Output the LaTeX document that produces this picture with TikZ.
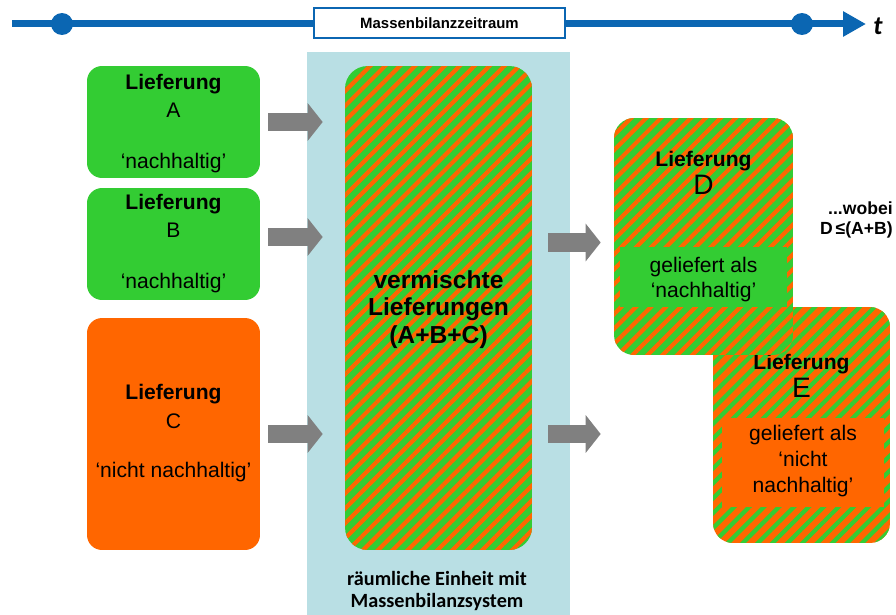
\documentclass[tikz,border=0pt]{standalone}
\usepackage{fontspec}
\setmainfont{Liberation Sans}
\newfontfamily\calibri{Carlito}
\usetikzlibrary{arrows.meta,patterns.meta}
\definecolor{lgreen}{RGB}{51,204,51}
\definecolor{lorange}{RGB}{255,102,0}
\definecolor{lblue}{RGB}{185,223,228}
\definecolor{tblue}{RGB}{11,102,178}
\definecolor{agray}{RGB}{128,128,128}
\newcommand\lief{{\bfseries Lieferung}}
\newcommand\bigletter[1]{{\fontsize{16}{16}\selectfont #1}}

\tikzset{
  box/.style={rounded corners=0.3cm, inner sep=0pt, minimum width=3.46cm},
  stripes/.style={postaction={pattern={Lines[angle=45,distance=6pt,line width=2.4pt]}, pattern color=#1}},
  band/.style={inner sep=0pt, fill=#1},
  txt/.style={align=center, font=\fontsize{12}{16}\selectfont, inner sep=0pt},
  dot/.style={circle, fill=tblue, inner sep=0pt, minimum size=0.44cm},
  blockarrow/.style={draw=agray, line width=0.37cm, -{Triangle[length=0.3cm,width=0.74cm]}},
}

\begin{document}
\begin{tikzpicture}[x=0.02cm,y=-0.02cm]
\useasboundingbox (0,0) rectangle (896,615);

\node[fill=lblue, inner sep=0pt, minimum width=5.26cm, minimum height=11.26cm] (unit) at (438.5,333.5) {};

\coordinate (t0) at (12,24);
\coordinate (t1) at (866,24);
\draw[draw=tblue, line width=0.14cm, -{Triangle[length=0.46cm,width=0.48cm]}] (t0) -- (t1);
\node[dot] (d0) at (62,24) {};
\node[dot] (d1) at (802,24) {};
\node[draw=tblue, line width=0.04cm, fill=white, minimum width=5.02cm, minimum height=0.6cm,
  font=\fontsize{8.5}{10}\selectfont\bfseries] (period) at (439.5,23) {Massenbilanzzeitraum};
\node[font=\calibri\bfseries\itshape\fontsize{15}{18}\selectfont] (t) at (878,26) {t};

\node[box, fill=lgreen, minimum height=2.24cm] (A) at (173.5,122) {};
\node[box, fill=lgreen, minimum height=2.24cm] (B) at (173.5,244) {};
\node[box, fill=lorange, minimum height=4.64cm] (C) at (173.5,434) {};
\node[box, rounded corners=0.45cm, fill=lgreen, stripes=lorange, minimum width=3.74cm, minimum height=9.68cm] (mix) at (438.5,308) {};

\node[box, rounded corners=0.4cm, fill=lorange, stripes=lgreen, minimum width=3.54cm, minimum height=4.72cm] (E) at (801.5,425) {};
\node[band=lorange, minimum width=3.24cm, minimum height=1.78cm] (Eband) at (803,462.5) {};
\node[txt] (Etitle) at (801.5,376) {\lief\\\bigletter{E}};
\node[txt, font=\fontsize{12}{15}\selectfont] (Etxt) at (803,461) {geliefert als\\‘nicht\\nachhaltig’};

\node[box, rounded corners=0.4cm, fill=lgreen, stripes=lorange, minimum width=3.58cm, minimum height=4.74cm] (D) at (703.5,236.5) {};
\node[band=lgreen, minimum width=3.34cm, minimum height=1.2cm] (Dband) at (703.5,277) {};
\node[txt] (Dtitle) at (703.5,173) {\lief\\\bigletter{D}};
\node[txt, font=\fontsize{12}{14}\selectfont] (Dtxt) at (703.5,279.5) {geliefert als\\‘nachhaltig’};

\node[txt] (Atitle) at (173.5,96) {\lief\\A};
\node[txt] (Anach) at (173.5,163) {‘nachhaltig’};
\node[txt] (Btitle) at (173.5,216) {\lief\\B};
\node[txt] (Bnach) at (173.5,283) {‘nachhaltig’};
\node[txt] (Ctitle) at (173.5,406.5) {\lief\\C};
\node[txt] (Cnach) at (173.5,472) {‘nicht nachhaltig’};

\node[txt, font=\fontsize{14}{15.6}\selectfont\bfseries] (mixtxt) at (438.5,309.5) {vermischte\\Lieferungen\\(A+B+C)};
\node[align=center, inner sep=0pt, font=\calibri\bfseries\fontsize{11.5}{12.5}\selectfont] (unittxt) at (437,591) {räumliche Einheit mit\\Massenbilanzsystem};
\node[align=right, anchor=east, inner sep=0pt, font=\bfseries\fontsize{10}{11}\selectfont] (note) at (893,220) {...wobei\\D\,≤(A+B)};

\draw[blockarrow, shorten <=0.16cm, shorten >=0.44cm] (A.east) -- (A.east -| mix.west);
\draw[blockarrow, shorten <=0.16cm, shorten >=0.44cm] ([yshift=0.14cm]B.east) -- ([yshift=0.14cm]B.east -| mix.west);
\draw[blockarrow, shorten <=0.16cm, shorten >=0.44cm] (C.east) -- (C.east -| mix.west);
\draw[blockarrow, shorten <=0.32cm, shorten >=0.26cm] ([yshift=-0.12cm]D.west -| mix.east) -- ([yshift=-0.12cm]D.west);
\draw[blockarrow, shorten <=0.32cm, shorten >=2.24cm] (C.east -| mix.east) -- (C.east -| E.west);
\end{tikzpicture}
\end{document}
